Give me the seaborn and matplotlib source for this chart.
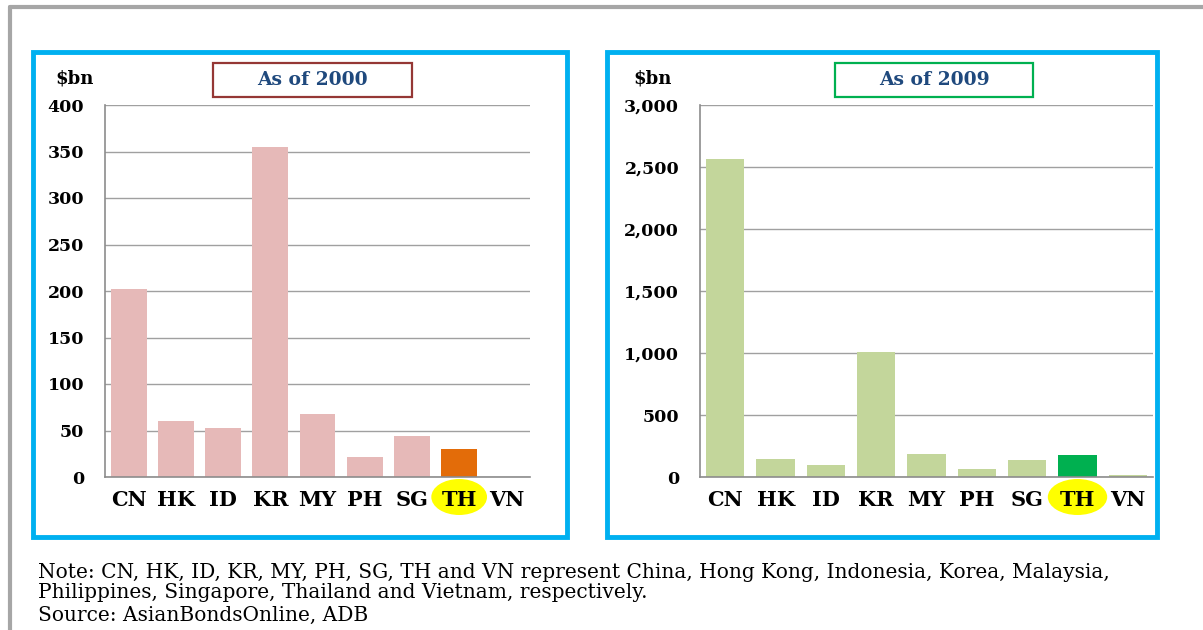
import matplotlib
matplotlib.use("Agg")
import matplotlib.pyplot as plt
from matplotlib.patches import Rectangle, Ellipse
from matplotlib.lines import Line2D
from matplotlib.transforms import blended_transform_factory
from matplotlib.ticker import FuncFormatter
import seaborn as sns

# data
countries = ["CN", "HK", "ID", "KR", "MY", "PH", "SG", "TH", "VN"]
bonds_2000 = [202, 60, 53, 355, 68, 21, 44, 30, 0.5]
bonds_2009 = [2565, 145, 97, 1010, 184, 61, 140, 180, 15]
ticks_2000 = list(range(0, 401, 50))
ticks_2009 = list(range(0, 3001, 500))
note_lines = [
    "Note: CN, HK, ID, KR, MY, PH, SG, TH and VN represent China, Hong Kong, Indonesia, Korea, Malaysia,",
    "Philippines, Singapore, Thailand and Vietnam, respectively.",
    "Source: AsianBondsOnline, ADB",
]

sns.set_theme(style="whitegrid")
plt.rcParams["font.family"] = ["DejaVu Serif", "Liberation Serif"]
plt.rcParams["text.color"] = "black"
plt.rcParams["xtick.color"] = "black"
plt.rcParams["ytick.color"] = "black"

W, H = 1203, 630
fig = plt.figure(figsize=(W / 100, H / 100), dpi=100)


def box(x0, y0, x1, y1):
    return [x0 / W, 1 - y1 / H, (x1 - x0) / W, (y1 - y0) / H]


def fig_xy(x, y):
    return x / W, 1 - y / H


# outer grey frame
fig.add_artist(Line2D([10 / W, 1], [1 - 7 / H] * 2, color="#A6A6A6", lw=3, transform=fig.transFigure))
fig.add_artist(Line2D([10 / W] * 2, [1 - 7 / H, 0], color="#A6A6A6", lw=3, transform=fig.transFigure))

# cyan panel boxes
for x0, x1 in [(33, 567), (607, 1157)]:
    fig.add_artist(Rectangle(fig_xy(x0, 537), (x1 - x0) / W, (537 - 52) / H, fill=False,
                             edgecolor="#00B0F0", lw=3.5, transform=fig.transFigure))


def panel(ax, values, base, hi, ticks, title, title_edge, tbox, unit_x):
    colors = [hi if c == "TH" else base for c in countries]
    sns.barplot(x=countries, y=values, hue=countries, palette=colors, legend=False,
                saturation=1, width=0.76, linewidth=0, ax=ax, zorder=2)
    ax.set_xlim(-0.5, len(countries) - 0.5)
    ax.set_ylim(ticks[0], ticks[-1])
    ax.set_yticks(ticks)
    ax.yaxis.set_major_formatter(FuncFormatter(lambda v, p: f"{v:,.0f}"))
    ax.grid(axis="y", color="#A0A0A0", lw=1)
    ax.grid(axis="x", visible=False)
    ax.set_facecolor("white")
    for s in ["top", "right"]:
        ax.spines[s].set_visible(False)
    for s in ["left", "bottom"]:
        ax.spines[s].set_color("#8C8C8C")
        ax.spines[s].set_linewidth(1.2)
    ax.set_xticks(range(len(countries)))
    ax.set_xticks([i - 0.5 for i in range(len(countries) + 1)], minor=True)
    ax.tick_params(axis="x", which="major", length=0, pad=9, labelsize=15)
    ax.tick_params(axis="x", which="minor", length=5, color="#8C8C8C", width=1.2, direction="out")
    ax.tick_params(axis="y", length=6, color="#A0A0A0", width=1, pad=9, labelsize=12.5)
    for lab in ax.get_xticklabels() + ax.get_yticklabels():
        lab.set_fontweight("bold")
    ax.set_xlabel("")
    ax.set_ylabel("")
    # yellow highlight behind TH label
    tr = blended_transform_factory(ax.transData, ax.transAxes)
    ax.add_patch(Ellipse((countries.index("TH"), -20 / 372), 1.18, 36 / 372, transform=tr,
                         facecolor="#FFFF00", edgecolor="none", clip_on=False, zorder=0))
    # unit label
    fig.text(*fig_xy(unit_x, 78), "$bn", ha="center", va="center", fontsize=13, fontweight="bold")
    # title box
    x0, x1 = tbox
    fig.add_artist(Rectangle(fig_xy(x0, 97), (x1 - x0) / W, 34 / H, fill=False,
                             edgecolor=title_edge, lw=1.6, transform=fig.transFigure))
    fig.text(*fig_xy((x0 + x1) / 2, 80), title, ha="center", va="center", fontsize=13.5,
             fontweight="bold", color="#1F497D")


ax1 = fig.add_axes(box(105, 105, 530, 477))
ax2 = fig.add_axes(box(700, 105, 1153, 477))

panel(ax1, bonds_2000, "#E6B9B8", "#E36C09", ticks_2000, "As of 2000", "#953735", (213, 412), 75)
panel(ax2, bonds_2009, "#C3D69B", "#00B050", ticks_2009, "As of 2009", "#00B050", (835, 1033), 653)

for y, line in zip([572, 593, 615], note_lines):
    fig.text(*fig_xy(38, y), line, ha="left", va="center", fontsize=14.5)

fig.savefig("out.png", dpi=100)
